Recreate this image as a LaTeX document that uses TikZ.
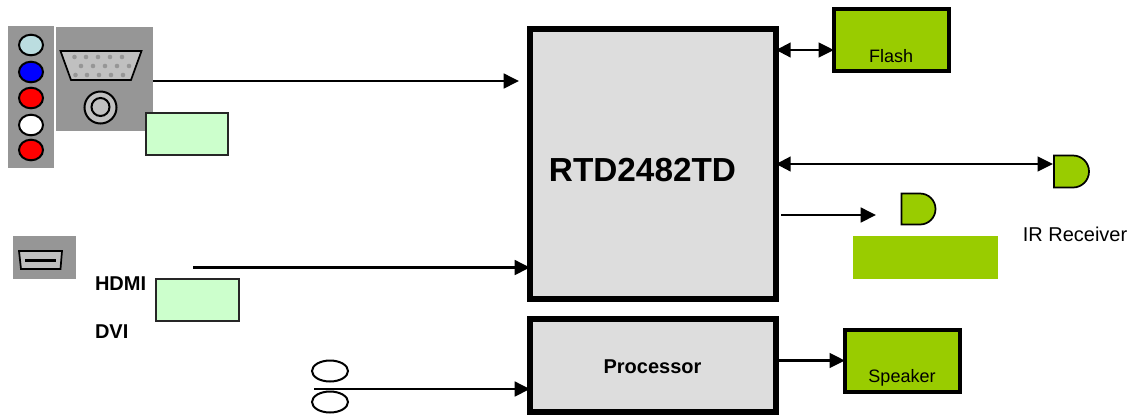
\documentclass[tikz,border=0pt]{standalone}
\usepackage{fontspec}
\setmainfont{Liberation Sans}
\usetikzlibrary{arrows.meta}
\definecolor{chipgrey}{HTML}{DDDDDD}
\definecolor{lime}{HTML}{99CC00}
\definecolor{pale}{HTML}{CCFFCC}
\definecolor{panel}{HTML}{969696}
\definecolor{conn}{HTML}{C0C0C0}
\definecolor{jackcyan}{HTML}{BBDDE0}
\tikzset{
  px/.style={inner sep=0pt,outer sep=0pt},
  chip/.style={px,draw=black,fill=chipgrey,line width=4.6pt},
  limebox/.style={px,draw=black,fill=lime,line width=3pt},
  palebox/.style={px,draw=black!85,fill=pale,line width=1.5pt},
  panelbox/.style={px,fill=panel},
  jack/.style={draw=black,line width=1.5pt},
  wire/.style={line width=1.9pt,-{Triangle[length=11.5pt,width=11pt]}},
  biwire/.style={line width=1.7pt,{Triangle[length=11pt,width=11pt]}-{Triangle[length=11.5pt,width=11pt]}},
  gate/.style={draw=black,fill=lime,line width=1.3pt},
  lbl/.style={px,font=\fontsize{13.5pt}{15pt}\selectfont},
  blbl/.style={px,font=\fontsize{15pt}{17pt}\selectfont\bfseries},
  pin/.style={fill=panel,draw=none}
}
\begin{document}
\begin{tikzpicture}[x=0.75pt,y=-0.75pt]
\useasboundingbox (0,0) rectangle (1141,415);
% panels
\node[panelbox,minimum width=34.5pt,minimum height=106.5pt] (rca) at (31,97) {};
\node[panelbox,minimum width=72.75pt,minimum height=78pt] (vgap) at (104.5,79) {};
\node[panelbox,minimum width=47.25pt,minimum height=32.25pt] (hdmip) at (44.5,257.5) {};
% RCA jacks
\foreach \y/\c in {45/jackcyan,72/blue,98/red,125/white,150/red}
  \draw[jack,fill=\c] (31,\y) ellipse [x radius=12,y radius=10.3];
% VGA connector
\draw[line width=1.3pt,fill=conn] (60.5,51) -- (141.5,51) -- (131,80) -- (71,80) -- cycle;
\foreach \x in {74.5,86,98,110,122} \fill[pin] (\x,57) circle (2.3);
\foreach \x in {81,93,105,117,129} \fill[pin] (\x,66) circle (2.3);
\foreach \x in {75.5,87,99,111,123} \fill[pin] (\x,75) circle (2.3);
% audio jack
\draw[jack,fill=conn] (100.5,107.5) circle (16);
\draw[jack,fill=conn] (100.5,107) circle (9);
% HDMI connector
\draw[line width=1.3pt,fill=conn] (19,251) -- (62,251) -- (60.5,269) -- (21,269) -- cycle;
\draw[line width=1.6pt] (25,260.5) -- (56,260.5);
% pale boxes
\node[palebox,minimum width=61.5pt,minimum height=31.5pt] (adc) at (187,133.5) {};
\node[palebox,minimum width=62pt,minimum height=31.5pt] (hdrx) at (197.5,300) {};
% chips
\node[chip,minimum width=184.5pt,minimum height=202.5pt] (main) at (653,164) {};
\node[chip,minimum width=184.5pt,minimum height=70pt] (proc) at (653,365.5) {};
\node[px,font=\fontsize{25pt}{28pt}\selectfont\bfseries] (rtd) at (642.5,170) {RTD2482TD};
\node[blbl] (proct) at (652.5,367) {Processor};
% peripherals
\node[limebox,minimum width=86.5pt,minimum height=46.5pt] (flash) at (891.5,40) {};
\node[limebox,minimum width=86.5pt,minimum height=46.5pt] (spk) at (902.5,360.5) {};
\node[lbl] (flasht) at (891,56) {Flash};
\node[lbl] (spkt) at (902,377.5) {Speaker};
\node[px,fill=lime,minimum width=108.75pt,minimum height=32.25pt] (lcd) at (925.5,257.5) {};
% gates
\draw[gate] (1054,155.5) -- (1073,155.5) arc [start angle=-90,end angle=90,radius=16] -- (1054,187.5) -- cycle;
\draw[gate] (901.5,193.5) -- (920,193.5) arc [start angle=-90,end angle=90,radius=15.5] -- (901.5,224.5) -- cycle;
\coordinate (irgate) at (1053,164);
\coordinate (outend) at (876,215);
\coordinate (outstart) at (781,215);
\node[px,font=\fontsize{15pt}{17pt}\selectfont] (irt) at (1075,234) {IR Receiver};
% labels
\node[blbl,anchor=west] (hdmit) at (95,284) {HDMI};
\node[blbl,anchor=west] (dvit) at (95,332) {DVI};
% audio ellipses
\draw[jack] (330,371) ellipse [x radius=18,y radius=10.5];
\draw[jack] (330,402) ellipse [x radius=18,y radius=10.5];
% wires
\coordinate (vgaout) at (153,81);
\coordinate (vgaend) at (519,81);
\coordinate (hdmiin) at (193,267.5);
\coordinate (audin) at (314,389);
\draw[wire] (vgaout) -- (vgaend);
\draw[wire] (hdmiin) -- (hdmiin -| main.west);
\draw[wire] (audin) -- (audin -| proc.west);
\draw[biwire] (main.east |- flash.center) ++(0,10) coordinate (fl) (fl) -- (fl -| flash.west);
\draw[biwire] (main.east) -- (irgate);
\draw[wire] (outstart) -- (outend);
\coordinate (sp) at (spk.west);
\draw[wire] (sp -| proc.east) -- (spk.west);
\end{tikzpicture}
\end{document}
